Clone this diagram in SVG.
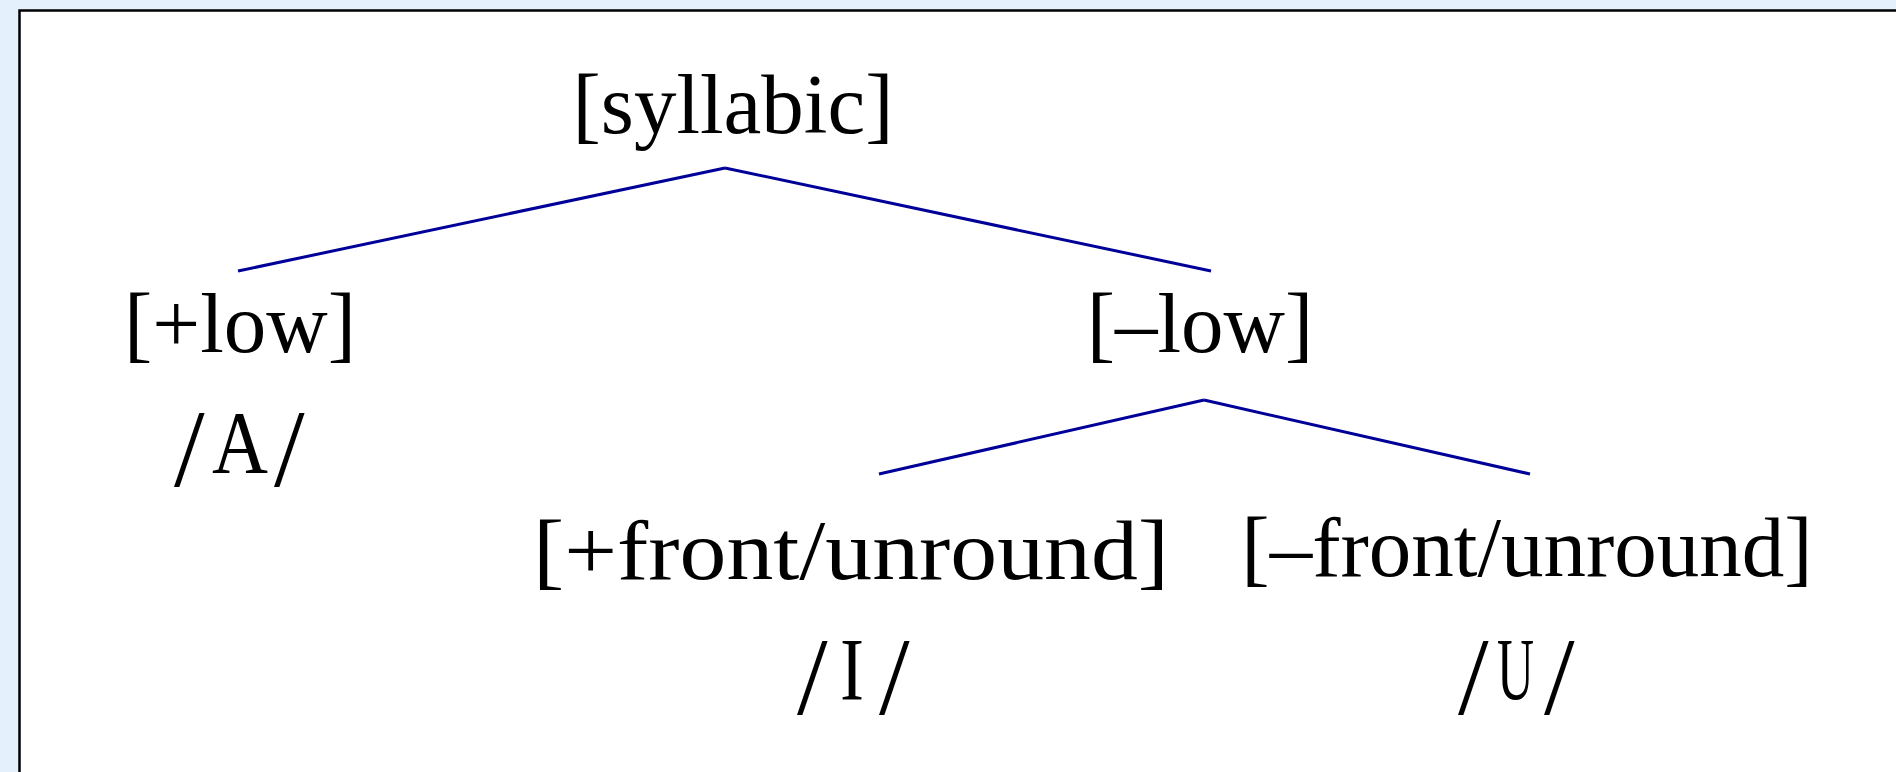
<svg xmlns="http://www.w3.org/2000/svg" width="1896" height="772" viewBox="0 0 1896 772">
<style>
.t{font-family:"Liberation Serif","Times New Roman",serif;font-size:85px;fill:#000}
.c{text-anchor:middle}
.s{font-size:110px}
.g{font-size:88px}
.e{stroke:#000099;stroke-width:3;fill:none}
</style>
<rect x="0" y="0" width="1896" height="772" fill="#E4F1FD"/>
<rect x="19.5" y="10.5" width="1890" height="775" fill="#FFFFFF" stroke="#000" stroke-width="2.5"/>
<g id="connectors">
<line class="e" x1="725" y1="168" x2="238" y2="271"/>
<line class="e" x1="725" y1="168" x2="1211" y2="271"/>
<line class="e" x1="1204" y1="400" x2="879" y2="474"/>
<line class="e" x1="1204" y1="400" x2="1530" y2="474"/>
</g>
<g id="syllabic"><text class="t c" x="733" y="133">[syllabic]</text></g>
<g id="plus-low">
<text class="t c" x="240" y="352">[+low]</text>
<text class="t"><tspan class="s" x="174" y="486">/</tspan><tspan class="g" x="212" y="472" textLength="56" lengthAdjust="spacingAndGlyphs">A</tspan><tspan class="s" x="274" y="486">/</tspan></text>
</g>
<g id="minus-low"><text class="t c" x="1200" y="352">[–low]</text></g>
<g id="plus-front">
<text class="t c" x="851" y="579" textLength="636" lengthAdjust="spacingAndGlyphs">[+front/unround]</text>
<text class="t"><tspan class="s" x="797" y="714">/</tspan><tspan class="g" x="840" y="699" textLength="24" lengthAdjust="spacingAndGlyphs">I</tspan><tspan class="s" x="879" y="714">/</tspan></text>
</g>
<g id="minus-front">
<text class="t c" x="1527" y="576">[–front/unround]</text>
<text class="t"><tspan class="s" x="1458" y="714">/</tspan><tspan class="g" x="1497" y="699" textLength="37" lengthAdjust="spacingAndGlyphs">U</tspan><tspan class="s" x="1544" y="714">/</tspan></text>
</g>
</svg>
